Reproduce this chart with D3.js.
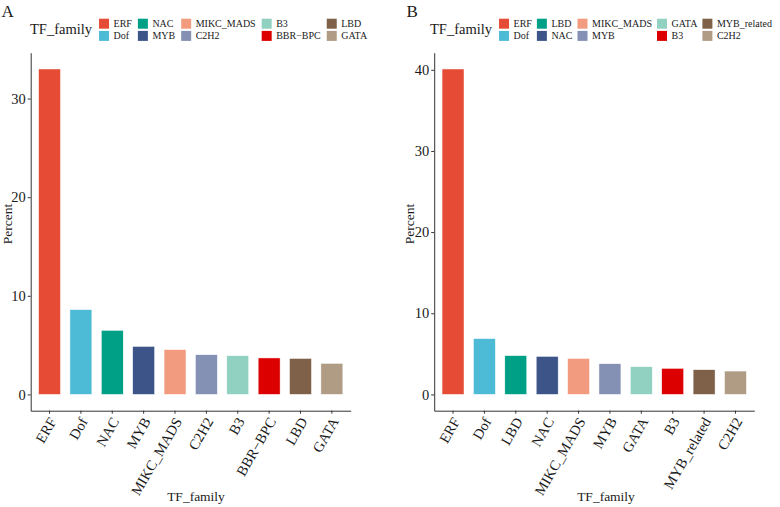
<!DOCTYPE html>
<html>
<head>
<meta charset="utf-8">
<script src="https://cdn.jsdelivr.net/npm/d3@7"></script>
<style>
  html, body { margin: 0; padding: 0; background: #fff; }
  svg { display: block; font-family: "Liberation Serif", "Times New Roman", serif; }
</style>
</head>
<body>
<svg id="chart" width="780" height="507"></svg>
<script>
// ---- Data ----
const familiesA = ["ERF", "Dof", "NAC", "MYB", "MIKC_MADS", "C2H2", "B3", "BBR\u2212BPC", "LBD", "GATA"];
const percentA  = [33.0, 8.6, 6.5, 4.87, 4.55, 4.03, 3.93, 3.7, 3.65, 3.15];
const yTicksA   = [0, 10, 20, 30];

const familiesB = ["ERF", "Dof", "LBD", "NAC", "MIKC_MADS", "MYB", "GATA", "B3", "MYB_related", "C2H2"];
const percentB  = [40.1, 6.88, 4.78, 4.69, 4.44, 3.79, 3.42, 3.21, 3.05, 2.88];
const yTicksB   = [0, 10, 20, 30, 40];

const npgColors = ["#E64B35", "#4DBBD5", "#00A087", "#3C5488", "#F39B7F",
                   "#8491B4", "#91D1C2", "#DC0000", "#7E6148", "#B09C85"];

const axisTitleX = "TF_family";
const axisTitleY = "Percent";
const legendTitle = "TF_family";

// ---- Drawing ----
const svg = d3.select("#chart");

function drawPanel(cfg) {
  const { letter, letterX, families, values, ticks, left, right, top, bottom,
          legendX, xTitleX, yTitleX, colGap } = cfg;
  const g = svg.append("g");
  const ink = "#1a1a1a";

  // panel letter
  g.append("text").attr("x", letterX).attr("y", 17)
    .attr("font-size", 17).attr("fill", ink).text(letter);

  const maxV = d3.max(values);
  const x = d3.scaleBand().domain(families).range([left, right])
    .paddingInner(0.3).paddingOuter(0.25);
  const y = d3.scaleLinear().domain([-0.05 * maxV, 1.05 * maxV]).range([bottom, top]);
  const color = d3.scaleOrdinal().domain(families).range(npgColors);

  // bars
  g.selectAll("rect.bar").data(families).join("rect")
    .attr("class", "bar")
    .attr("x", d => x(d))
    .attr("width", x.bandwidth())
    .attr("y", (d, i) => y(values[i]))
    .attr("height", (d, i) => y(0) - y(values[i]))
    .attr("fill", d => color(d))
    .attr("stroke", "#ffffff").attr("stroke-width", 0.5);

  // y axis
  const ya = g.append("g").attr("transform", `translate(${left},0)`)
    .call(d3.axisLeft(y).tickValues(ticks).tickSize(3).tickSizeOuter(0).tickPadding(2).tickFormat(d3.format("d")));
  ya.select(".domain").attr("stroke", "#333").attr("stroke-width", 1);
  ya.selectAll(".tick line").attr("stroke", "#333");
  ya.selectAll(".tick text").attr("font-size", 14.5).attr("fill", ink)
    .attr("font-family", "Liberation Serif");

  // x axis
  const xa = g.append("g").attr("transform", `translate(0,${bottom})`)
    .call(d3.axisBottom(x).tickSize(3).tickSizeOuter(0).tickFormat(""));
  xa.select(".domain").attr("stroke", "#333").attr("stroke-width", 1);
  xa.selectAll(".tick line").attr("stroke", "#333");

  // rotated x labels
  g.selectAll("text.xl").data(families).join("text")
    .attr("class", "xl")
    .attr("transform", d => `translate(${x(d) + x.bandwidth() / 2 + 3},${bottom + 8}) rotate(-60)`)
    .attr("text-anchor", "end").attr("dy", "0.35em")
    .attr("font-size", 14.5).attr("fill", ink).text(d => d);

  // axis titles
  g.append("text").attr("x", xTitleX).attr("y", 501)
    .attr("text-anchor", "middle").attr("font-size", 13.5).attr("fill", ink).text(axisTitleX);
  g.append("text").attr("transform", `translate(${yTitleX},224) rotate(-90)`)
    .attr("text-anchor", "middle").attr("dy", "0.35em")
    .attr("font-size", 13.5).attr("fill", ink).text(axisTitleY);

  // legend
  const lg = g.append("g");
  const tt = lg.append("text").attr("x", legendX).attr("y", 33.5)
    .attr("font-size", 14.5).attr("fill", ink).text(legendTitle);
  let cx = legendX + tt.node().getComputedTextLength() + 7;
  const rowsY = [18.7, 30.9];
  const keySize = 10;
  for (let c = 0; c < Math.ceil(families.length / 2); c++) {
    let maxW = 0;
    for (let r = 0; r < 2; r++) {
      const i = c * 2 + r;
      if (i >= families.length) continue;
      lg.append("rect").attr("x", cx).attr("y", rowsY[r])
        .attr("width", keySize).attr("height", keySize).attr("fill", color(families[i]));
      const t = lg.append("text").attr("x", cx + 14.5).attr("y", rowsY[r] + keySize / 2)
        .attr("dy", "0.35em").attr("font-size", 10).attr("fill", ink).text(families[i]);
      maxW = Math.max(maxW, t.node().getComputedTextLength());
    }
    cx += 14.5 + maxW + colGap;
  }
}

drawPanel({ letter: "A", letterX: 1.5, families: familiesA, values: percentA, ticks: yTicksA,
  left: 30.7, right: 350.7, top: 52.7, bottom: 410.7, legendX: 30, xTitleX: 196, yTitleX: 7, colGap: 6 });
drawPanel({ letter: "B", letterX: 406.5, families: familiesB, values: percentB, ticks: yTicksB,
  left: 434.2, right: 754.3, top: 52.7, bottom: 410.7, legendX: 430, xTitleX: 606, yTitleX: 409.5, colGap: 5 });
</script>
</body>
</html>
